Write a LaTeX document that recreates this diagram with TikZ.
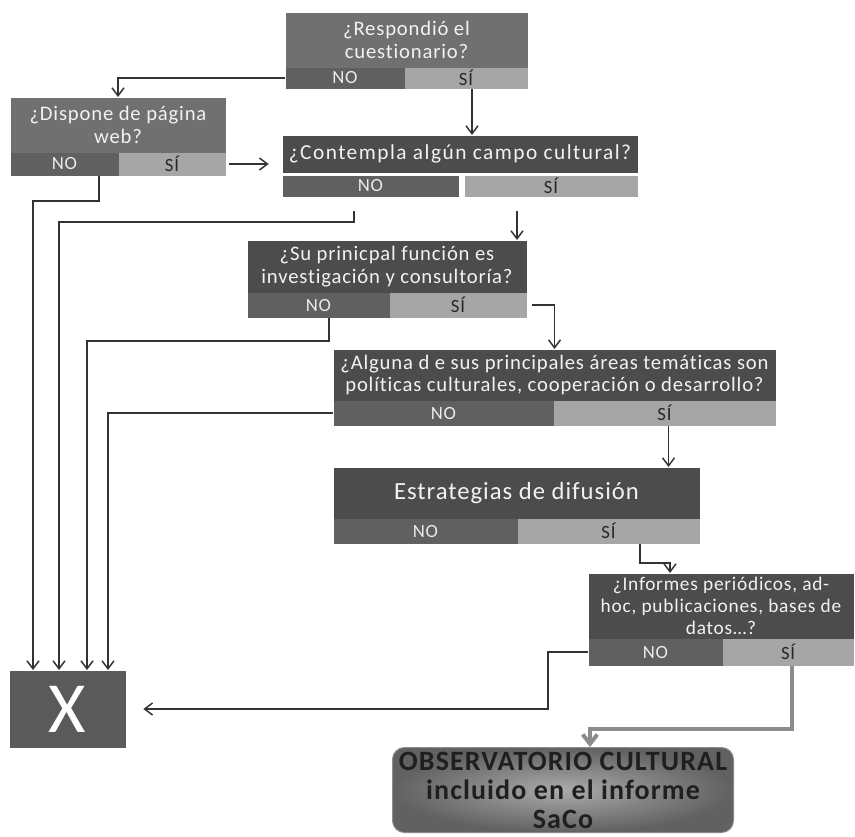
\documentclass[tikz,border=0pt]{standalone}
\usepackage{fontspec}
\setmainfont{Carlito}[Ligatures=NoCommon, LetterSpace=4]
\usetikzlibrary{arrows.meta}

\definecolor{qdark}{RGB}{76,76,76}
\definecolor{qmid}{RGB}{112,112,112}
\definecolor{nofill}{RGB}{96,96,96}
\definecolor{sifill}{RGB}{166,166,166}
\definecolor{xfill}{RGB}{90,90,90}

\tikzset{every picture/.style={line width=0.75pt}}
\tikzset{
  question/.style={anchor=north west, inner sep=0pt, align=center, fill=qdark, text=white!95!black,
    font=\fontsize{15.5}{17}\selectfont},
  nobar/.style={anchor=north west, inner sep=0pt, fill=nofill, text=white!92!black,
    font=\fontsize{14}{15}\selectfont},
  sibar/.style={anchor=north west, inner sep=0pt, fill=sifill, text=black!85,
    font=\fontsize{14}{15}\selectfont},
  link/.style={draw=black!80, line width=1.1pt, -{Straight Barb[length=6pt,width=9pt]}},
}

\begin{document}
\begin{tikzpicture}[x=0.75pt,y=0.75pt,yscale=-1,xscale=1]
%set diagram to the size of the page
\fill [white] (0,0) rectangle (855,836);
\useasboundingbox (0,0) rectangle (855,836);

% Respondio
\node [question, fill=qmid, minimum width=181.5pt, minimum height=41.25pt] (resp) at (285,12) {¿Respondió el\\cuestionario?};
\node [nobar, minimum width=89.25pt, minimum height=15.75pt] (resp-no) at (285,67) {NO};
\node [sibar, minimum width=92.25pt, minimum height=15.75pt] (resp-si) at (404,67) {SÍ};

% Pagina web
\node [question, fill=qmid, minimum width=161.25pt, minimum height=41.25pt] (web) at (10,97) {¿Dispone de página\\web?};
\node [nobar, minimum width=81pt, minimum height=17.25pt] (web-no) at (10,152) {NO};
\node [sibar, minimum width=80.25pt, minimum height=17.25pt] (web-si) at (118,152) {SÍ};

% Campo cultural
\node [question, font=\fontsize{16}{17}\selectfont\addfontfeatures{LetterSpace=7}, minimum width=266.25pt, minimum height=27.75pt] (cont) at (282,135) {¿Contempla algún campo cultural?};
\node [nobar, minimum width=132pt, minimum height=15.75pt] (cont-no) at (282,175) {NO};
\node [sibar, minimum width=129.75pt, minimum height=15.75pt] (cont-si) at (464,175) {SÍ};

% Funcion principal
\node [question, minimum width=209.25pt, minimum height=39pt] (func) at (247,240) {¿Su prinicpal función es\\investigación y consultoría?};
\node [nobar, minimum width=106.5pt, minimum height=18.75pt] (func-no) at (247,292) {NO};
\node [sibar, minimum width=102.75pt, minimum height=18.75pt] (func-si) at (389,292) {SÍ};

% Areas tematicas
\node [question, minimum width=331.5pt, minimum height=38.25pt] (area) at (333,349) {¿Alguna d e sus principales áreas temáticas son\\políticas culturales, cooperación o desarrollo?};
\node [nobar, minimum width=165pt, minimum height=18.75pt] (area-no) at (333,400) {NO};
\node [sibar, minimum width=166.5pt, minimum height=18.75pt] (area-si) at (553,400) {SÍ};

% Estrategias
\node [question, font=\fontsize{18.5}{20}\selectfont, minimum width=274.5pt, minimum height=38.25pt] (estr) at (333,467) {Estrategias de difusión};
\node [nobar, minimum width=138pt, minimum height=18.75pt] (estr-no) at (333,518) {NO};
\node [sibar, minimum width=136.5pt, minimum height=18.75pt] (estr-si) at (517,518) {SÍ};

% Informes
\node [question, font=\fontsize{14.5}{16.5}\selectfont, minimum width=198.75pt, minimum height=48.75pt] (info) at (588,573) {¿Informes periódicos, ad-\\hoc, publicaciones, bases de\\datos…?};
\node [nobar, minimum width=100.5pt, minimum height=20.25pt] (info-no) at (588,638) {NO};
\node [sibar, minimum width=98.25pt, minimum height=20.25pt] (info-si) at (722,638) {SÍ};

% X
\node [anchor=north west, inner sep=0pt, fill=xfill, text=white, minimum width=87pt, minimum height=57.75pt, font=\fontsize{54}{54}\selectfont] (xbox) at (9,670) {X};
\path (xbox.north west) ++(24,0) coordinate (x1) ++(26,0) coordinate (x2) ++(28,0) coordinate (x3) ++(21,0) coordinate (x4);

% Observatorio
\node [anchor=north west, inner sep=0pt, rounded corners=9pt, inner color=black!33, outer color=black!62, draw=black!45, align=center, text=black!88, minimum width=255.75pt, minimum height=63.75pt, font=\bfseries\fontsize{21}{21.75}\selectfont] (obs) at (392,747) {OBSERVATORIO CULTURAL\\incluido en el informe\\SaCo};
\path (obs.north west) ++(198,0) coordinate (o1);
\path (info.north west) ++(82,0) coordinate (i1);

% Flechas
\draw [link] (resp-no.west) -| (web.north);
\draw [link] (resp-si.south) ++(6,0) coordinate (a1) -- (a1 |- cont.north);
\draw [link, shorten <=2pt, shorten >=10pt] (web-si.east) -- (web-si.east -| cont.west);
\draw [link] (web-no.south east) ++(-20,0) -- ++(0,25) -| (x1);
\draw [link] (cont-no.south east) ++(-105,14) -- ++(0,11) -| (x2);
\draw [link] (cont-si.south west) ++(53,14) coordinate (a2) -- (a2 |- func.north);
\draw [link] (func-no.south east) ++(-61,0) -- ++(0,23) -| (x3);
\draw [link, shorten <=4pt] (func-si.east) -| (area.north);
\draw [link] (area-no.west) -| (x4);
\draw [link] (area-si.south) ++(4,0) coordinate (a3) -- (a3 |- estr.north);
\draw [link] (estr-si.south west) ++(123,0) -- ++(0,19) -| (i1);
\draw [link, shorten >=13pt] (info-no.west) -- ++(-40,0) |- (xbox.east);
\draw [link, draw=black!45, line width=3pt, -{Straight Barb[length=7pt,width=11pt]}] (info-si.south) ++(4,0) -- ++(0,63) -| (o1);
\end{tikzpicture}
\end{document}
